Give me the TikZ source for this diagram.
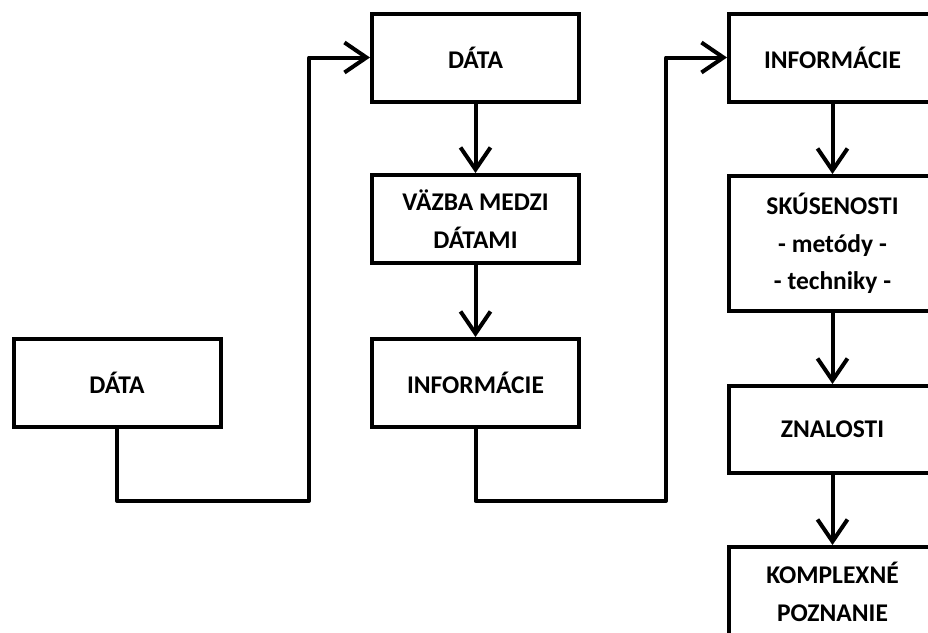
\documentclass[tikz,border=0pt]{standalone}
\usepackage{fontspec}
\setmainfont{Carlito}
\usetikzlibrary{arrows.meta}
\begin{document}
\begin{tikzpicture}[x=1pt,y=-1pt,
  box/.style={draw=black,line width=4pt,fill=white,minimum width=207pt,
    minimum height=88pt,inner sep=0pt,align=center,
    font=\fontsize{25.5}{37.5}\selectfont\bfseries},
  flow/.style={line width=4pt,line join=round,
    -{Straight Barb[length=22pt,width=30pt,line width=4pt]}},
  link/.style={line width=4pt,line join=round}]
\useasboundingbox (0,0) rectangle (928,632);
\clip (0,0) rectangle (928,632);
\fill[white] (0,0) rectangle (928,632);

% left column
\node[box] (d1) at (117,383) {DÁTA};

% middle column
\node[box] (d2) at (475.5,57.5) {DÁTA};
\node[box] (v2) at (475.5,219) {VÄZBA MEDZI\\DÁTAMI};
\node[box] (i2) at (475.5,383) {INFORMÁCIE};

% right column
\node[box] (i3) at (832.5,57.5) {INFORMÁCIE};
\node[box,minimum height=135pt] (s3) at (832.5,243.5)
  {SKÚSENOSTI\\- metódy -\\- techniky -};
\node[box,minimum height=87pt] (z3) at (832.5,429.5) {ZNALOSTI};
\node[box,minimum height=90pt] (k3) at (832.5,592) {KOMPLEXNÉ\\POZNANIE};

% routing corners
\coordinate (c1) at (309,501);
\coordinate (c2) at (666,501);

% connectors
\draw[flow] (d1.south) |- (c1) |- (d2.west);
\draw[flow] (d2) -- (v2);
\draw[flow] (v2) -- (i2);
\draw[flow] (i2.south) |- (c2) |- (i3.west);
\draw[flow] (i3) -- (s3);
\draw[flow] (s3) -- (z3);
\draw[flow] (z3) -- (k3);
\end{tikzpicture}
\end{document}
